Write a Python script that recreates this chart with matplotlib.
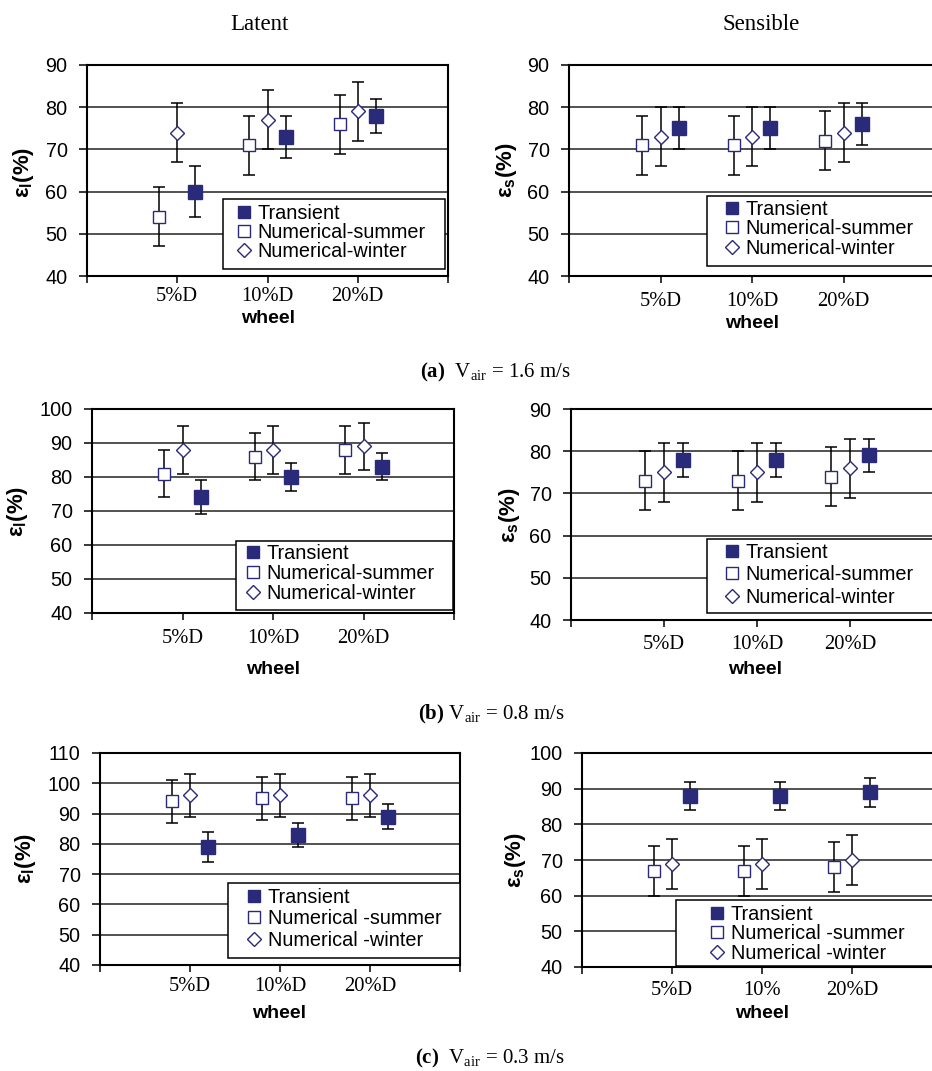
import matplotlib
matplotlib.use('Agg')
import matplotlib.pyplot as plt
import numpy as np
from matplotlib.lines import Line2D
from matplotlib.patches import Rectangle

plt.rcParams['font.family'] = ['Liberation Sans', 'DejaVu Sans']
plt.rcParams['mathtext.fontset'] = 'custom'
plt.rcParams['mathtext.rm'] = 'Liberation Serif'
plt.rcParams['mathtext.bf'] = 'Liberation Serif:bold'
plt.rcParams['mathtext.sf'] = 'Liberation Sans:bold'

# ---------------- data ----------------
categories = ['5%D', '10%D', '20%D']
categories_c_right = ['5%D', '10%', '20%D']
legend_labels_ab = ['Transient', 'Numerical-summer', 'Numerical-winter']
legend_labels_c = ['Transient', 'Numerical -summer', 'Numerical -winter']

# (a) V_air = 1.6 m/s
lat16_transient = [60, 73, 78]
lat16_transient_err = [6, 5, 4]
lat16_summer = [54, 71, 76]
lat16_summer_err = [7, 7, 7]
lat16_winter = [74, 77, 79]
lat16_winter_err = [7, 7, 7]
sen16_transient = [75, 75, 76]
sen16_transient_err = [5, 5, 5]
sen16_summer = [71, 71, 72]
sen16_summer_err = [7, 7, 7]
sen16_winter = [73, 73, 74]
sen16_winter_err = [7, 7, 7]

# (b) V_air = 0.8 m/s
lat08_transient = [74, 80, 83]
lat08_transient_err = [5, 4, 4]
lat08_summer = [81, 86, 88]
lat08_summer_err = [7, 7, 7]
lat08_winter = [88, 88, 89]
lat08_winter_err = [7, 7, 7]
sen08_transient = [78, 78, 79]
sen08_transient_err = [4, 4, 4]
sen08_summer = [73, 73, 74]
sen08_summer_err = [7, 7, 7]
sen08_winter = [75, 75, 76]
sen08_winter_err = [7, 7, 7]

# (c) V_air = 0.3 m/s
lat03_transient = [79, 83, 89]
lat03_transient_err = [5, 4, 4]
lat03_summer = [94, 95, 95]
lat03_summer_err = [7, 7, 7]
lat03_winter = [96, 96, 96]
lat03_winter_err = [7, 7, 7]
sen03_transient = [88, 88, 89]
sen03_transient_err = [4, 4, 4]
sen03_summer = [67, 67, 68]
sen03_summer_err = [7, 7, 7]
sen03_winter = [69, 69, 70]
sen03_winter_err = [7, 7, 7]

# ---------------- styling ----------------
W, H = 932, 1071
NAVY = '#2a2a7a'
fig = plt.figure(figsize=(W / 100, H / 100), dpi=100)


def rect(l, t, r, b):
    return [l / W, 1 - b / H, (r - l) / W, (b - t) / H]


def ftext(x, y, s, **kw):
    return fig.text(x / W, 1 - y / H, s, **kw)


styles = {
    'summer': dict(marker='s', ms=8.8, mfc='white', mec=NAVY, mew=1.0),
    'winter': dict(marker='D', ms=7.0, mfc='white', mec=NAVY, mew=1.0),
    'transient': dict(marker='s', ms=9.8, mfc=NAVY, mec=NAVY, mew=1.0),
}
offsets = {'summer': -0.2, 'winter': 0.0, 'transient': 0.2}


def panel(box, ylim, series, xlabels, xpad, ylab, ylab_xy, xlab_xy,
          leg_labels, leg_box, leg_anchor, leg_spacing):
    ax = fig.add_axes(rect(*box))
    ax.set_xlim(0, 4)
    ax.set_ylim(*ylim)
    ax.set_yticks(np.arange(ylim[0], ylim[1] + 1, 10))
    ax.set_xticks([0, 1, 2, 3, 4])
    ax.set_xticklabels([''] + list(xlabels) + [''])
    ax.yaxis.grid(True, color='#3c3c3c', lw=1.25)
    ax.set_axisbelow(True)
    for sp in ax.spines.values():
        sp.set_color('black')
        sp.set_linewidth(1.5)
    ax.tick_params(axis='y', direction='out', length=6, width=1.1, pad=8,
                   labelsize=14.3)
    ax.tick_params(axis='x', direction='out', length=5, width=1.1, pad=xpad,
                   labelsize=14.8)
    for lbl in ax.get_xticklabels():
        lbl.set_family('Liberation Serif')
    cats = np.arange(1, len(xlabels) + 1)
    for key in ['summer', 'winter', 'transient']:
        vals, errs = series[key]
        xs = cats + offsets[key]
        ax.errorbar(xs, vals, yerr=errs, fmt='none', ecolor='black',
                    elinewidth=1.1, capsize=4.6, capthick=1.1, zorder=3)
        ax.plot(xs, vals, ls='none', zorder=4, **styles[key])
    # axis labels
    ftext(*ylab_xy, ylab, rotation=90, ha='center', va='center', fontsize=16)
    ftext(*xlab_xy, 'wheel', ha='center', va='center', fontsize=14,
          fontweight='bold')
    # legend frame + legend
    l, t, r, b = leg_box
    ax.add_patch(Rectangle((l / W, 1 - b / H), (r - l) / W, (b - t) / H,
                           transform=fig.transFigure, facecolor='white',
                           edgecolor='black', lw=1.1, clip_on=False,
                           zorder=4.5))
    handles = [Line2D([], [], ls='none', **styles['transient']),
               Line2D([], [], ls='none', **styles['summer']),
               Line2D([], [], ls='none', **styles['winter'])]
    handles[0].set_markersize(8.6)
    handles[1].set_markersize(8.6)
    handles[2].set_markersize(6.8)
    ax.legend(handles, leg_labels, loc='upper left', frameon=False,
              bbox_to_anchor=(leg_anchor[0] / W, 1 - leg_anchor[1] / H),
              bbox_transform=fig.transFigure, borderpad=0, borderaxespad=0,
              handlelength=0.8, handletextpad=0.3, labelspacing=leg_spacing,
              fontsize=14.3)
    return ax


# row a
panel((87, 65, 448, 276), (40, 90),
      {'summer': (lat16_summer, lat16_summer_err),
       'winter': (lat16_winter, lat16_winter_err),
       'transient': (lat16_transient, lat16_transient_err)},
      categories, 3.2, r'$\mathsf{\varepsilon_{l}(\%)}$', (23, 172), (268, 318),
      legend_labels_ab, (223, 199, 445, 269), (236, 204), 0.0)
panel((569, 65, 935, 276), (40, 90),
      {'summer': (sen16_summer, sen16_summer_err),
       'winter': (sen16_winter, sen16_winter_err),
       'transient': (sen16_transient, sen16_transient_err)},
      categories, 6.5, r'$\mathsf{\varepsilon_{s}(\%)}$', (507, 170), (752, 323),
      legend_labels_ab, (707, 196, 950, 266), (724, 200), 0.02)
# row b
panel((92, 409, 454, 613), (40, 100),
      {'summer': (lat08_summer, lat08_summer_err),
       'winter': (lat08_winter, lat08_winter_err),
       'transient': (lat08_transient, lat08_transient_err)},
      categories, 6.5, r'$\mathsf{\varepsilon_{l}(\%)}$', (17, 511), (273, 669),
      legend_labels_ab, (236, 541, 453, 610), (245, 544), 0.04)
panel((571, 409, 943, 620), (40, 90),
      {'summer': (sen08_summer, sen08_summer_err),
       'winter': (sen08_winter, sen08_winter_err),
       'transient': (sen08_transient, sen08_transient_err)},
      categories, 6.0, r'$\mathsf{\varepsilon_{s}(\%)}$', (510, 515), (755, 669),
      legend_labels_ab, (707, 539, 950, 613), (724, 543), 0.17)
# row c
panel((100, 753, 460, 965), (40, 110),
      {'summer': (lat03_summer, lat03_summer_err),
       'winter': (lat03_winter, lat03_winter_err),
       'transient': (lat03_transient, lat03_transient_err)},
      categories, 3.9, r'$\mathsf{\varepsilon_{l}(\%)}$', (25, 858), (279, 1013),
      legend_labels_c, (228, 883, 460, 958), (246, 888), 0.12)
panel((582, 753, 942, 967), (40, 100),
      {'summer': (sen03_summer, sen03_summer_err),
       'winter': (sen03_winter, sen03_winter_err),
       'transient': (sen03_transient, sen03_transient_err)},
      categories_c_right, 5.4, r'$\mathsf{\varepsilon_{s}(\%)}$', (515, 860), (762, 1013),
      legend_labels_c, (676, 900, 950, 966), (709, 905), 0.02)

# column titles
ftext(259, 25, 'Latent', ha='center', va='center', fontsize=16.5,
      family='Liberation Serif')
ftext(761, 25, 'Sensible', ha='center', va='center', fontsize=16.5,
      family='Liberation Serif')

# captions
ftext(420, 377, r'$\mathbf{(a)}$  V$_\mathrm{air}$ = 1.6 m/s', ha='left',
      va='baseline', fontsize=15, family='Liberation Serif')
ftext(418, 719, r'$\mathbf{(b)}$ V$_\mathrm{air}$ = 0.8 m/s', ha='left',
      va='baseline', fontsize=15, family='Liberation Serif')
ftext(415, 1063, r'$\mathbf{(c)}$  V$_\mathrm{air}$ = 0.3 m/s', ha='left',
      va='baseline', fontsize=15, family='Liberation Serif')

fig.savefig('out.png', dpi=100)
